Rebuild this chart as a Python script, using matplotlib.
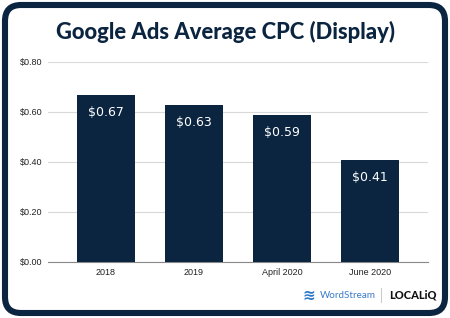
import numpy as np
import matplotlib
matplotlib.use("Agg")
import matplotlib.pyplot as plt
from matplotlib.patches import FancyBboxPatch
from matplotlib.transforms import IdentityTransform

# --- Data ---
categories = ["2018", "2019", "April 2020", "June 2020"]
cpc = [0.67, 0.63, 0.59, 0.41]
yticks = [0.0, 0.2, 0.4, 0.6, 0.8]

NAVY = "#0b2540"

fig = plt.figure(figsize=(4.5, 3.18), dpi=100)
fig.patch.set_facecolor("white")

# rounded frame around the card (pixel coords)
frame = FancyBboxPatch((5, 5), 440, 308, boxstyle="round,pad=0,rounding_size=16",
                       transform=IdentityTransform(), facecolor="white",
                       edgecolor=NAVY, linewidth=4.4, zorder=-5)
fig.patches.append(frame)

ax = fig.add_axes([48 / 450, 1 - 262 / 318, 380 / 450, 200 / 318])
ax.set_zorder(2)
ax.set_facecolor("none")
x = np.arange(len(categories))
bars = ax.bar(x, cpc, width=0.65, color=NAVY, zorder=3)

for b, v in zip(bars, cpc):
    ax.annotate(f"${v:.2f}", (b.get_x() + b.get_width() / 2, v),
                xytext=(0, -18), textcoords="offset pixels",
                ha="center", va="center", color="white", fontsize=9,
                family="DejaVu Sans")

ax.set_xlim(-0.66, 3.66)
ax.set_ylim(0, 0.8)
ax.set_yticks(yticks)
ax.set_yticklabels([f"${t:.2f}" for t in yticks], family="Liberation Sans")
ax.set_xticks(x)
ax.set_xticklabels(categories, family="Liberation Sans")
ax.tick_params(axis="both", length=0, labelsize=6.5, colors="#222222")
ax.tick_params(axis="y", pad=4)
ax.tick_params(axis="x", pad=4)
ax.grid(axis="y", color="#d9d9d9", linewidth=0.8, zorder=0)
for s in ["top", "right", "left"]:
    ax.spines[s].set_visible(False)
ax.spines["bottom"].set_color("#888888")
ax.spines["bottom"].set_linewidth(0.8)

fig.text(0.5, 1 - 32 / 318, "Google Ads Average CPC (Display)", ha="center",
         va="center", fontsize=15.8, fontweight="black", color=NAVY, family="Lato")

# footer logos
fig.text(315 / 450, 1 - 295 / 318, "\u224b", ha="right", va="center",
         fontsize=11, color="#2b78c9", fontweight="bold")
fig.text(320 / 450, 1 - 295 / 318, "WordStream", ha="left", va="center",
         fontsize=7.1, color="#3a7bc8", family="Lato")
fig.add_artist(plt.Line2D([381 / 450, 381 / 450], [1 - 288 / 318, 1 - 302 / 318],
                          color="#cccccc", linewidth=0.8))
fig.text(389 / 450, 1 - 295 / 318, "LOCALiQ", ha="left", va="center",
         fontsize=8, color="#111111", fontweight="black", family="Lato")

fig.savefig("out.png", dpi=100)
